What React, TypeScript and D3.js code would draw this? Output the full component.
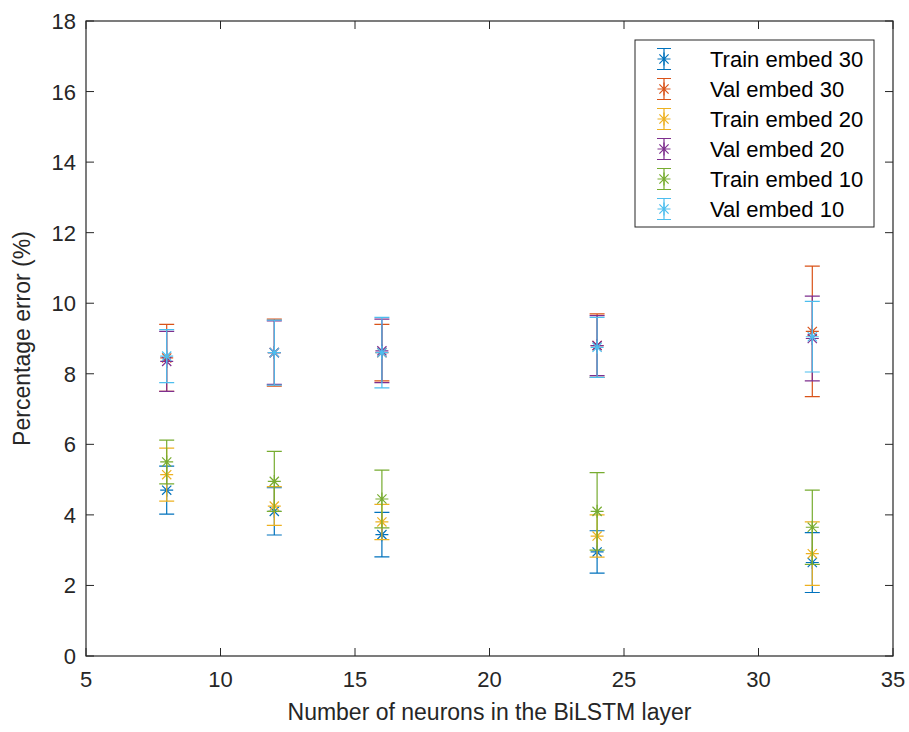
import React, { useEffect, useRef } from 'react';
import * as d3 from 'd3';

// neurons in the BiLSTM layer
const neurons = [8, 12, 16, 24, 32];

const seriesNames = [
    'Train embed 30',
    'Val embed 30',
    'Train embed 20',
    'Val embed 20',
    'Train embed 10',
    'Val embed 10',
];

const train30 = [4.7, 4.1, 3.44, 2.95, 2.65];
const train30Err = [0.68, 0.67, 0.63, 0.6, 0.85];
const val30 = [8.45, 8.6, 8.6, 8.8, 9.2];
const val30Err = [0.95, 0.95, 0.8, 0.9, 1.85];
const train20 = [5.14, 4.25, 3.8, 3.4, 2.9];
const train20Err = [0.75, 0.55, 0.5, 0.6, 0.9];
const val20 = [8.35, 8.6, 8.65, 8.8, 9.0];
const val20Err = [0.85, 0.9, 0.9, 0.85, 1.2];
const train10 = [5.5, 4.95, 4.45, 4.1, 3.65];
const train10Err = [0.62, 0.85, 0.82, 1.1, 1.05];
const val10 = [8.5, 8.6, 8.6, 8.75, 9.05];
const val10Err = [0.75, 0.92, 1.0, 0.85, 1.0];

const xTicks = [5, 10, 15, 20, 25, 30, 35];
const yTicks = [0, 2, 4, 6, 8, 10, 12, 14, 16, 18];

const colors = ['#0072BD', '#D95319', '#EDB120', '#7E2F8E', '#77AC30', '#4DBEEE'];

export default function App() {
    const svgRef = useRef<SVGSVGElement>(null);

    useEffect(() => {
        const width = 909, height = 732;
        const margin = { top: 21, right: 16, bottom: 76, left: 86 };
        const font = '"Liberation Sans", Arial, Helvetica, sans-serif';
        const axisColor = '#262626';

        const svg = d3.select(svgRef.current)
            .attr('width', width)
            .attr('height', height);
        svg.selectAll('*').remove();

        svg.append('rect').attr('width', width).attr('height', height).attr('fill', '#fff');

        const x = d3.scaleLinear().domain([5, 35]).range([margin.left, width - margin.right]);
        const y = d3.scaleLinear().domain([0, 18]).range([height - margin.bottom, margin.top]);

        const series = [
            { vals: train30, err: train30Err },
            { vals: val30, err: val30Err },
            { vals: train20, err: train20Err },
            { vals: val20, err: val20Err },
            { vals: train10, err: train10Err },
            { vals: val10, err: val10Err },
        ].map((s, i) => ({ ...s, name: seriesNames[i], color: colors[i] }));

        const x0 = x.range()[0], x1 = x.range()[1];
        const y0 = y.range()[0], y1 = y.range()[1];
        const tickLen = 8;

        // ticks (inward, mirrored on all sides)
        const axes = svg.append('g').attr('stroke', axisColor).attr('stroke-width', 1);
        xTicks.forEach(t => {
            axes.append('line').attr('x1', x(t)).attr('x2', x(t)).attr('y1', y0).attr('y2', y0 - tickLen);
            axes.append('line').attr('x1', x(t)).attr('x2', x(t)).attr('y1', y1).attr('y2', y1 + tickLen);
        });
        yTicks.forEach(t => {
            axes.append('line').attr('x1', x0).attr('x2', x0 + tickLen).attr('y1', y(t)).attr('y2', y(t));
            axes.append('line').attr('x1', x1).attr('x2', x1 - tickLen).attr('y1', y(t)).attr('y2', y(t));
        });

        // tick labels
        svg.append('g').selectAll('text').data(xTicks).join('text')
            .attr('x', d => x(d)).attr('y', y0 + 31)
            .attr('text-anchor', 'middle')
            .attr('font-family', font).attr('font-size', 22).attr('fill', axisColor)
            .text(d => d);
        svg.append('g').selectAll('text').data(yTicks).join('text')
            .attr('x', x0 - 10).attr('y', d => y(d) + 8)
            .attr('text-anchor', 'end')
            .attr('font-family', font).attr('font-size', 22).attr('fill', axisColor)
            .text(d => d);

        // axis labels
        svg.append('text')
            .attr('x', (x0 + x1) / 2).attr('y', y0 + 64)
            .attr('text-anchor', 'middle')
            .attr('font-family', font).attr('font-size', 23).attr('fill', axisColor)
            .text('Number of neurons in the BiLSTM layer');
        svg.append('text')
            .attr('transform', `translate(${30}, ${(y0 + y1) / 2}) rotate(-90)`)
            .attr('text-anchor', 'middle')
            .attr('font-family', font).attr('font-size', 23).attr('fill', axisColor)
            .text('Percentage error (%)');

        const capHalf = 7.5;
        const starR = 6.5;

        const drawStar = (g: any, cx: number, cy: number, color: string) => {
            const p = d3.path();
            for (let k = 0; k < 4; k++) {
                const a = k * Math.PI / 4;
                const dx = Math.cos(a) * starR, dy = Math.sin(a) * starR;
                p.moveTo(cx - dx, cy - dy);
                p.lineTo(cx + dx, cy + dy);
            }
            g.append('path').attr('d', p.toString()).attr('stroke', color).attr('stroke-width', 1.2).attr('fill', 'none');
        };

        const plot = svg.append('g');
        series.forEach(s => {
            const g = plot.append('g');
            neurons.forEach((n, i) => {
                const cx = x(n);
                const lo = y(s.vals[i] - s.err[i]);
                const hi = y(s.vals[i] + s.err[i]);
                const p = d3.path();
                p.moveTo(cx, lo); p.lineTo(cx, hi);
                p.moveTo(cx - capHalf, lo); p.lineTo(cx + capHalf, lo);
                p.moveTo(cx - capHalf, hi); p.lineTo(cx + capHalf, hi);
                g.append('path').attr('d', p.toString()).attr('stroke', s.color).attr('stroke-width', 1.2).attr('fill', 'none');
                drawStar(g, cx, y(s.vals[i]), s.color);
            });
        });

        // box
        svg.append('rect')
            .attr('x', x0).attr('y', y1).attr('width', x1 - x0).attr('height', y0 - y1)
            .attr('fill', 'none').attr('stroke', axisColor).attr('stroke-width', 1.2);

        // legend
        const lg = svg.append('g');
        const lx = 635, ly = 40, lw = 239, lh = 187;
        lg.append('rect').attr('x', lx).attr('y', ly).attr('width', lw).attr('height', lh)
            .attr('fill', '#fff').attr('stroke', axisColor).attr('stroke-width', 1);
        series.forEach((s, i) => {
            const cy = 59 + i * 30;
            const cx = 664;
            const p = d3.path();
            p.moveTo(cx, cy - 10.5); p.lineTo(cx, cy + 10.5);
            p.moveTo(cx - 7, cy - 10.5); p.lineTo(cx + 7, cy - 10.5);
            p.moveTo(cx - 7, cy + 10.5); p.lineTo(cx + 7, cy + 10.5);
            lg.append('path').attr('d', p.toString()).attr('stroke', s.color).attr('stroke-width', 1.2).attr('fill', 'none');
            drawStar(lg, cx, cy, s.color);
            lg.append('text')
                .attr('x', 710).attr('y', cy + 7.5)
                .attr('font-family', font).attr('font-size', 22).attr('fill', '#000')
                .text(s.name);
        });
    }, []);

    return (
        <div style={{ position: 'absolute', left: 0, top: 0 }}>
            <svg ref={svgRef}></svg>
        </div>
    );
}
